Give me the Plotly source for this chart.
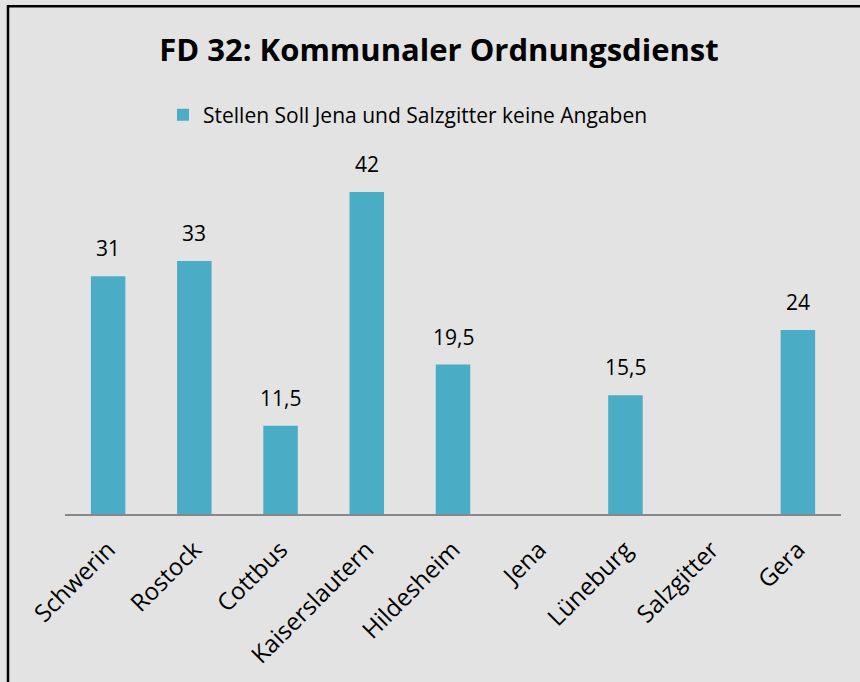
import plotly.graph_objects as go

categories = ["Schwerin", "Rostock", "Cottbus", "Kaiserslautern", "Hildesheim", "Jena", "Lüneburg", "Salzgitter", "Gera"]
values = [31, 33, 11.5, 42, 19.5, None, 15.5, None, 24]
series_name = "Stellen Soll Jena und Salzgitter keine Angaben"
title_text = "FD 32: Kommunaler Ordnungsdienst"

BG = "#e3e3e3"
BAR = "#4bacc6"
FONT = "Open Sans"

fig = go.Figure()
fig.add_trace(go.Bar(
    x=categories, y=values, name=series_name,
    marker=dict(color=BAR, line=dict(width=0)),
    showlegend=True,
))

for c, v in zip(categories, values):
    if v is None:
        continue
    fig.add_annotation(x=c, y=v, xref="x", yref="y", text=f"{v:g}".replace(".", ","),
                       showarrow=False, yanchor="bottom", yshift=12,
                       font=dict(family=FONT, size=21, color="#000000"))

L, R, T, B = 65, 19, 169, 167.5
W, H = 860, 682
pw, ph = W - L - R, H - T - B
def px(x): return (x - L) / pw
def py(y): return (H - B - y) / ph
def cy(y): return 1 - y / H

fig.update_layout(
    width=W, height=H,
    margin=dict(l=L, r=R, t=T, b=B, autoexpand=False),
    paper_bgcolor=BG, plot_bgcolor=BG,
    bargap=0.6,
    separators=",.",
    title=dict(text=f"<b>{title_text}</b>", x=439 / W, xref="container", xanchor="center",
               y=cy(50), yref="container", yanchor="middle",
               font=dict(family=FONT, size=31, color="#000000")),
    legend=dict(orientation="h", x=px(408), xanchor="center", y=py(115), yanchor="middle",
                font=dict(family=FONT, size=21, color="#000000"),
                bgcolor="rgba(0,0,0,0)", itemsizing="constant"),
    xaxis=dict(showline=True, linecolor="#888888", linewidth=2, ticks="",
               tickangle=-45, tickfont=dict(family=FONT, size=24, color="#000000"),
               ticklabelstandoff=10,
               showgrid=False, zeroline=False),
    yaxis=dict(range=[0, 45], visible=False, showgrid=False, zeroline=False),
    shapes=[dict(type="rect", xref="paper", yref="paper",
                 x0=px(8), x1=px(875), y0=py(6), y1=py(700),
                 line=dict(color="#000000", width=2.5), fillcolor="rgba(0,0,0,0)", layer="below")],
)

fig.write_html("out.html", config={"displayModeBar": False},
               post_script="document.body.style.margin='0';document.body.style.background='#e3e3e3';document.documentElement.style.background='#e3e3e3';")
